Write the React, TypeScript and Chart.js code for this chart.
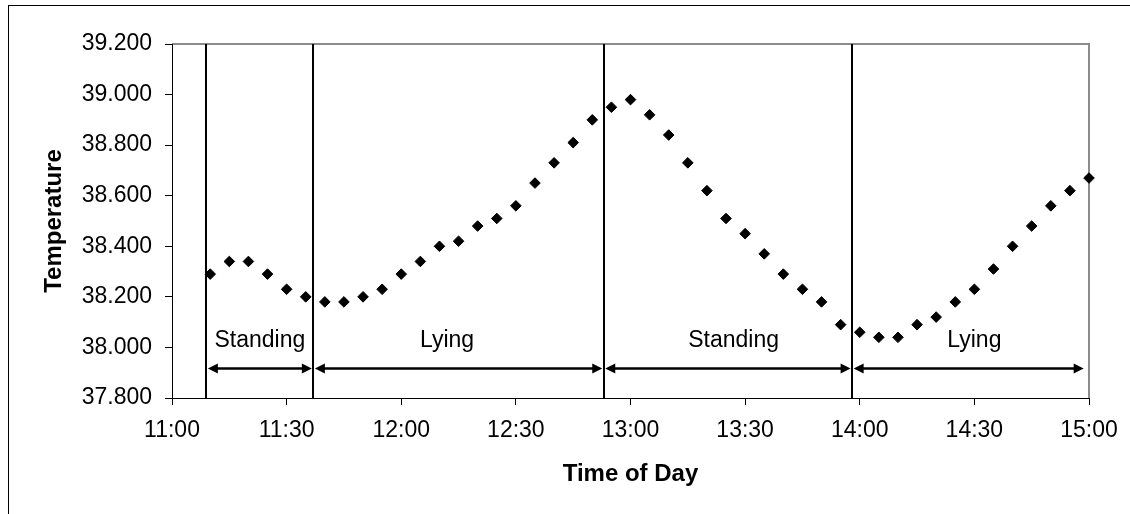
import React, { useEffect, useRef } from "react";
import { Chart, registerables } from "chart.js";

Chart.register(...registerables);

// ---- Data ----
const times = [
  "11:10", "11:15", "11:20", "11:25", "11:30", "11:35", "11:40", "11:45", "11:50", "11:55",
  "12:00", "12:05", "12:10", "12:15", "12:20", "12:25", "12:30", "12:35", "12:40", "12:45",
  "12:50", "12:55", "13:00", "13:05", "13:10", "13:15", "13:20", "13:25", "13:30", "13:35",
  "13:40", "13:45", "13:50", "13:55", "14:00", "14:05", "14:10", "14:15", "14:20", "14:25",
  "14:30", "14:35", "14:40", "14:45", "14:50", "14:55", "15:00",
];
const temperatures = [
  38.29, 38.34, 38.34, 38.29, 38.23, 38.2, 38.18, 38.18, 38.2, 38.23,
  38.29, 38.34, 38.4, 38.42, 38.48, 38.51, 38.56, 38.65, 38.73, 38.81,
  38.9, 38.95, 38.98, 38.92, 38.84, 38.73, 38.62, 38.51, 38.45, 38.37,
  38.29, 38.23, 38.18, 38.09, 38.06, 38.04, 38.04, 38.09, 38.12, 38.18,
  38.23, 38.31, 38.4, 38.48, 38.56, 38.62, 38.67,
];
const phaseNames = ["Standing", "Lying", "Standing", "Lying"];
const phaseStarts = ["11:09", "11:37", "12:53", "13:58"];
const phaseEnds = ["11:37", "12:53", "13:58", "14:59"];
const phaseLabelTimes = ["11:23", "12:12", "13:27", "14:30"];
const boundaryTimes = ["11:09", "11:37", "12:53", "13:58"];
const xRange = ["11:00", "15:00"];
const yRange = [37.8, 39.2];
const yStep = 0.2;
const xStepMinutes = 30;
const xTitle = "Time of Day";
const yTitle = "Temperature";

const toMin = (s: string) => {
  const [h, m] = s.split(":").map(Number);
  return h * 60 + m;
};
const fmtTime = (v: number) => {
  const h = Math.floor(v / 60);
  const m = Math.round(v - h * 60);
  return `${h}:${m < 10 ? "0" + m : m}`;
};

const FONT = "'Liberation Sans', Arial, Helvetica, sans-serif";

const phasePlugin = {
  id: "phasePlugin",
  beforeDraw(chart: any) {
    const { ctx, chartArea } = chart;
    ctx.save();
    ctx.fillStyle = "#ffffff";
    ctx.fillRect(0, 0, chart.width, chart.height);
    // outer chart border (top/left visible)
    ctx.strokeStyle = "#000";
    ctx.lineWidth = 1;
    ctx.strokeRect(8.5, 5.5, chart.width + 50, chart.height + 50);
    // plot area top/right gray border
    ctx.strokeStyle = "#8c8c8c";
    ctx.lineWidth = 2;
    ctx.beginPath();
    ctx.moveTo(chartArea.left, chartArea.top);
    ctx.lineTo(chartArea.right, chartArea.top);
    ctx.lineTo(chartArea.right, chartArea.bottom);
    ctx.stroke();
    ctx.restore();
  },
  beforeDatasetsDraw(chart: any) {
    const { ctx, chartArea } = chart;
    const xs = chart.scales.x;
    const ys = chart.scales.y;
    ctx.save();
    // boundary lines
    ctx.strokeStyle = "#000";
    ctx.lineWidth = 2;
    boundaryTimes.forEach((t) => {
      const px = Math.round(xs.getPixelForValue(toMin(t)));
      ctx.beginPath();
      ctx.moveTo(px, chartArea.top);
      ctx.lineTo(px, chartArea.bottom);
      ctx.stroke();
    });
    // arrows
    const ay = Math.round(ys.getPixelForValue(37.92)) + 0.5;
    const head = 10;
    const hh = 5;
    phaseStarts.forEach((s, i) => {
      const x1 = xs.getPixelForValue(toMin(s)) + 1.5;
      const x2 = xs.getPixelForValue(toMin(phaseEnds[i])) - 1.5;
      ctx.lineWidth = 2.5;
      ctx.beginPath();
      ctx.moveTo(x1 + head - 1, ay);
      ctx.lineTo(x2 - head + 1, ay);
      ctx.stroke();
      ctx.fillStyle = "#000";
      ctx.beginPath();
      ctx.moveTo(x1, ay);
      ctx.lineTo(x1 + head, ay - hh);
      ctx.lineTo(x1 + head, ay + hh);
      ctx.closePath();
      ctx.fill();
      ctx.beginPath();
      ctx.moveTo(x2, ay);
      ctx.lineTo(x2 - head, ay - hh);
      ctx.lineTo(x2 - head, ay + hh);
      ctx.closePath();
      ctx.fill();
    });
    // labels
    ctx.font = `23px ${FONT}`;
    ctx.textAlign = "center";
    ctx.textBaseline = "middle";
    ctx.fillStyle = "#000";
    const ly = ys.getPixelForValue(38.025);
    phaseNames.forEach((n, i) => {
      ctx.fillText(n, xs.getPixelForValue(toMin(phaseLabelTimes[i])), ly);
    });
    ctx.restore();
  },
};

export default function App() {
  const ref = useRef<HTMLCanvasElement>(null);
  useEffect(() => {
    if (!ref.current) return;
    Chart.defaults.font.family = FONT;
    Chart.defaults.color = "#000";
    const chart = new Chart(ref.current, {
      type: "scatter",
      data: {
        datasets: [
          {
            label: yTitle,
            data: times.map((t, i) => ({ x: toMin(t), y: temperatures[i] })),
            pointStyle: "rectRot",
            pointRadius: 5.3,
            pointHoverRadius: 5.3,
            backgroundColor: "#000",
            borderColor: "#000",
            borderWidth: 1,
            showLine: false,
            clip: false as any,
          },
        ],
      },
      options: {
        responsive: false,
        animation: false,
        devicePixelRatio: 1,
        layout: { padding: { top: 44, right: 41, left: 0, bottom: 0 } },
        plugins: { legend: { display: false }, tooltip: { enabled: false } },
        scales: {
          x: {
            type: "linear",
            min: toMin(xRange[0]),
            max: toMin(xRange[1]),
            afterFit: (s: any) => {
              s.height = 116;
            },
            ticks: {
              stepSize: xStepMinutes,
              callback: (v: any) => fmtTime(Number(v)),
              font: { size: 23, family: FONT },
              color: "#000",
              padding: 12,
              maxRotation: 0,
              autoSkip: false,
            },
            grid: {
              drawOnChartArea: false,
              drawTicks: true,
              tickLength: 7,
              color: "#000",
              tickColor: "#000",
            },
            border: { display: true, color: "#000", width: 1 },
            title: {
              display: true,
              text: xTitle,
              font: { size: 24, weight: "bold", family: FONT },
              color: "#000",
              padding: { top: 0, bottom: 25.6 },
            },
          },
          y: {
            type: "linear",
            min: yRange[0],
            max: yRange[1],
            afterFit: (s: any) => {
              s.width = 172;
            },
            ticks: {
              stepSize: yStep,
              callback: (v: any) => Number(v).toFixed(3),
              font: { size: 23, family: FONT },
              color: "#000",
              padding: 13,
            },
            grid: {
              drawOnChartArea: false,
              drawTicks: true,
              tickLength: 7,
              color: "#000",
              tickColor: "#000",
            },
            border: { display: true, color: "#000", width: 1 },
            title: {
              display: true,
              text: yTitle,
              font: { size: 24, weight: "bold", family: FONT },
              color: "#000",
              padding: { top: 39.6, bottom: 0 },
            },
          },
        },
      },
      plugins: [phasePlugin],
    });
    return () => chart.destroy();
  }, []);
  return (
    <div style={{ position: "absolute", left: 0, top: 0, width: 1130, height: 514 }}>
      <canvas ref={ref} width={1130} height={514} style={{ display: "block" }} />
    </div>
  );
}
